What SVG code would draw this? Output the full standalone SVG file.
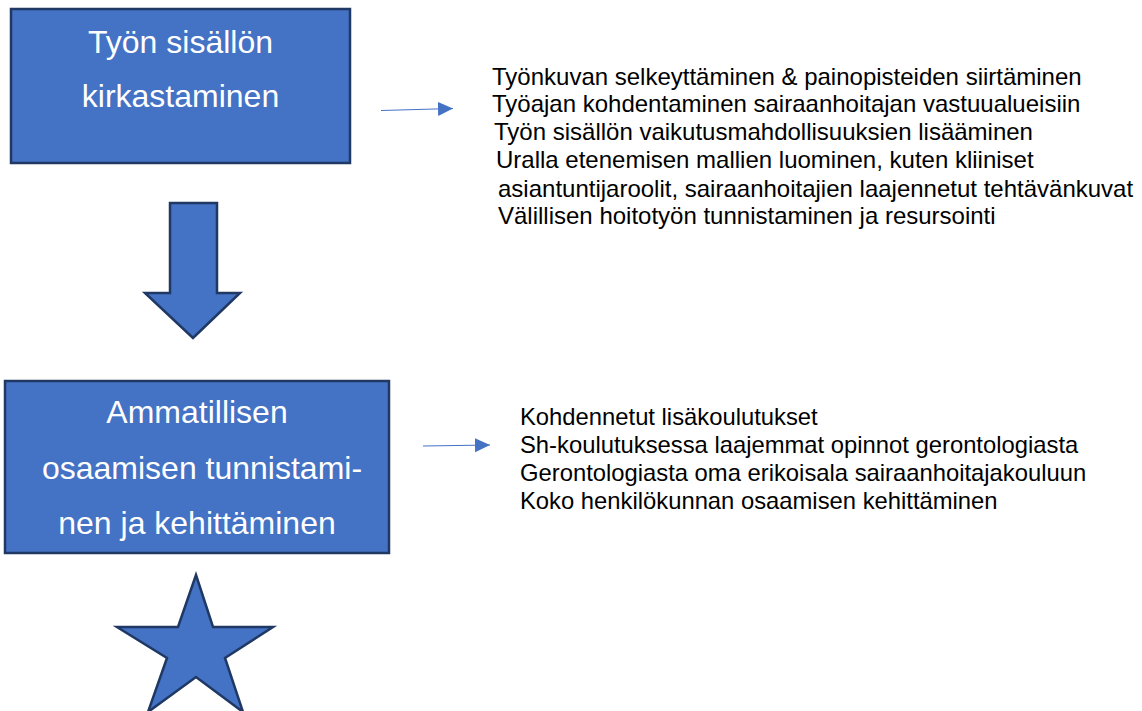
<svg xmlns="http://www.w3.org/2000/svg" width="1142" height="711" viewBox="0 0 1142 711">
  <style>
    .shape { fill: #4472C4; stroke: #1F3864; stroke-width: 2.5; stroke-linejoin: miter; }
    .boxtext { font-family: "Liberation Sans", Arial, sans-serif; font-size: 32px; fill: #FFFFFF; text-anchor: middle; }
    .list1 { font-family: "Liberation Sans", Arial, sans-serif; font-size: 24px; fill: #000000; }
    .list2 { font-family: "Liberation Sans", Arial, sans-serif; font-size: 23.8px; fill: #000000; }
    .conn { stroke: #4472C4; stroke-width: 1.2; fill: none; }
  </style>
  <defs>
    <marker id="ah" markerUnits="userSpaceOnUse" markerWidth="16" markerHeight="16" viewBox="0 0 16 16" refX="15" refY="8" orient="auto">
      <path d="M0,1 L15,8 L0,15 Z" fill="#4472C4"/>
    </marker>
  </defs>
  <rect width="1142" height="711" fill="#FFFFFF"/>

  <g id="box1">
    <rect class="shape" x="11" y="9" width="339" height="154"/>
    <text class="boxtext" x="180.5" y="53">Työn sisällön</text>
    <text class="boxtext" x="180.5" y="107">kirkastaminen</text>
  </g>

  <g id="downArrow">
    <polygon class="shape" points="170,203 217,203 217,293 240,293 193,338 145,293 170,293"/>
  </g>

  <g id="box2">
    <rect class="shape" x="5" y="381" width="384" height="172"/>
    <text class="boxtext" x="197" y="423">Ammatillisen</text>
    <text class="boxtext" x="202" y="479">osaamisen tunnistami-</text>
    <text class="boxtext" x="197" y="534">nen ja kehittäminen</text>
  </g>

  <g id="star">
    <polygon class="shape" points="196,575 213,627 273,627 225,658 243,712 196,677 148,712 167,658 117,627 178,627"/>
  </g>

  <g id="list1">
    <text class="list1" x="492" y="85">Työnkuvan selkeyttäminen &amp; painopisteiden siirtäminen</text>
    <text class="list1" x="492" y="112">Työajan kohdentaminen sairaanhoitajan vastuualueisiin</text>
    <text class="list1" x="494" y="140">Työn sisällön vaikutusmahdollisuuksien lisääminen</text>
    <text class="list1" x="496" y="168">Uralla etenemisen mallien luominen, kuten kliiniset</text>
    <text class="list1" x="498" y="197">asiantuntijaroolit, sairaanhoitajien laajennetut tehtävänkuvat</text>
    <text class="list1" x="498" y="224">Välillisen hoitotyön tunnistaminen ja resursointi</text>
  </g>

  <g id="list2">
    <text class="list2" x="520" y="425">Kohdennetut lisäkoulutukset</text>
    <text class="list2" x="520" y="453">Sh-koulutuksessa laajemmat opinnot gerontologiasta</text>
    <text class="list2" x="520" y="481">Gerontologiasta oma erikoisala sairaanhoitajakouluun</text>
    <text class="list2" x="520" y="509">Koko henkilökunnan osaamisen kehittäminen</text>
  </g>

  <g id="connectors">
    <line class="conn" x1="381" y1="110.5" x2="453" y2="108.5" marker-end="url(#ah)"/>
    <line class="conn" x1="423" y1="446" x2="490" y2="445" marker-end="url(#ah)"/>
  </g>
</svg>
